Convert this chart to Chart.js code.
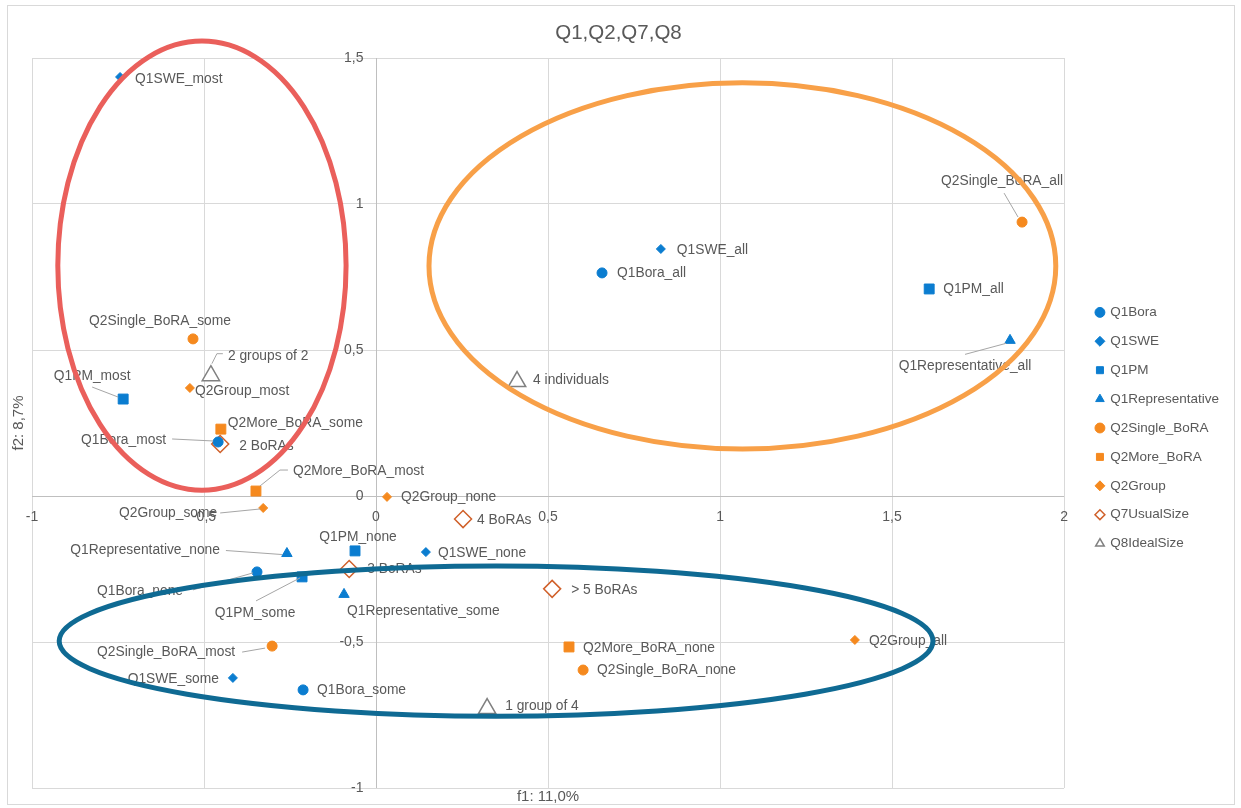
<!DOCTYPE html>
<html>
<head>
<meta charset="utf-8">
<script src="https://cdn.jsdelivr.net/npm/chart.js@4.4.1/dist/chart.umd.min.js"></script>
<style>
  html, body { margin: 0; padding: 0; background: #fff; }
  #wrap { width: 1241px; height: 808px; }
</style>
</head>
<body>
<div id="wrap"><canvas id="myChart"></canvas></div>
<script>
// series and their points
var seriesNames = ['Q1Bora', 'Q1SWE', 'Q1PM', 'Q1Representative', 'Q2Single_BoRA', 'Q2More_BoRA', 'Q2Group', 'Q7UsualSize', 'Q8IdealSize'];
var pointLabels = [
    ['Q1Bora_all', 'Q1Bora_most', 'Q1Bora_none', 'Q1Bora_some'],
    ['Q1SWE_all', 'Q1SWE_most', 'Q1SWE_none', 'Q1SWE_some'],
    ['Q1PM_all', 'Q1PM_most', 'Q1PM_none', 'Q1PM_some'],
    ['Q1Representative_all', 'Q1Representative_none', 'Q1Representative_some'],
    ['Q2Single_BoRA_all', 'Q2Single_BoRA_most', 'Q2Single_BoRA_none', 'Q2Single_BoRA_some'],
    ['Q2More_BoRA_most', 'Q2More_BoRA_none', 'Q2More_BoRA_some'],
    ['Q2Group_all', 'Q2Group_most', 'Q2Group_none', 'Q2Group_some'],
    ['2 BoRAs', '3 BoRAs', '4 BoRAs', '> 5 BoRAs'],
    ['1 group of 4', '2 groups of 2', '4 individuals']
];
var xValues = [
    [0.657, -0.459, -0.346, -0.212],
    [0.828, -0.744, 0.145, -0.416],
    [1.608, -0.735, -0.061, -0.215],
    [1.843, -0.259, -0.093],
    [1.878, -0.302, 0.602, -0.532],
    [-0.349, 0.561, -0.451],
    [1.392, -0.541, 0.032, -0.328],
    [-0.453, -0.078, 0.253, 0.512],
    [0.323, -0.480, 0.410]
];
var yValues = [
    [0.764, 0.185, -0.260, -0.664],
    [0.846, 1.435, -0.192, -0.623],
    [0.709, 0.332, -0.188, -0.277],
    [0.533, -0.197, -0.337],
    [0.938, -0.514, -0.596, 0.538],
    [0.017, -0.517, 0.229],
    [-0.493, 0.370, -0.003, -0.041],
    [0.178, -0.250, -0.079, -0.318],
    [-0.728, 0.412, 0.392]
];
var xTicks = [-1, -0.5, 0, 0.5, 1, 1.5, 2];
var yTicks = [-1, -0.5, 0, 0.5, 1, 1.5];

// highlight ellipses (data units): centre x, centre y, radius x, radius y
var ellipseCx = [-0.506, 1.065, 0.349];
var ellipseCy = [0.789, 0.788, -0.497];
var ellipseRx = [0.419, 0.911, 1.270];
var ellipseRy = [0.769, 0.627, 0.257];
var ellipseColors = ['#EA5F5B', '#F8A048', '#0F6A93'];

var blue = '#0B7DD0';
var orange = '#F5891E';
var seriesStyle = [
    { pointStyle: 'circle', radius: 5, fill: blue, border: blue, bw: 1 },
    { pointStyle: 'rectRot', radius: 4.5, fill: blue, border: blue, bw: 1 },
    { pointStyle: 'rect', radius: 7, fill: blue, border: blue, bw: 1 },
    { pointStyle: 'triangle', radius: 6, fill: blue, border: blue, bw: 1 },
    { pointStyle: 'circle', radius: 5, fill: orange, border: orange, bw: 1 },
    { pointStyle: 'rect', radius: 7, fill: orange, border: orange, bw: 1 },
    { pointStyle: 'rectRot', radius: 4.5, fill: orange, border: orange, bw: 1 },
    { pointStyle: 'rectRot', radius: 8.5, fill: '#ffffff', border: '#D0602A', bw: 1.5 },
    { pointStyle: 'triangle', radius: 10, fill: '#ffffff', border: '#808080', bw: 1.5 }
];

// where each data label sits relative to its marker (px), a = text align, l = leader line
var labelPlace = {
    'Q1Bora_all': { dx: 15, dy: 0, a: 'left' },
    'Q1Bora_most': { dx: -52, dy: -2, a: 'right', l: [[-46, -3], [-5, -1]] },
    'Q1Bora_none': { dx: -74, dy: 19, a: 'right', l: [[-64, 18], [-4, 1]] },
    'Q1Bora_some': { dx: 14, dy: 0, a: 'left' },
    'Q1SWE_all': { dx: 16, dy: 1, a: 'left' },
    'Q1SWE_most': { dx: 15, dy: 2, a: 'left' },
    'Q1SWE_none': { dx: 12, dy: 1, a: 'left' },
    'Q1SWE_some': { dx: -14, dy: 1, a: 'right' },
    'Q1PM_all': { dx: 14, dy: 0, a: 'left' },
    'Q1PM_most': { dx: -31, dy: -23, a: 'center', l: [[-31, -12], [-5, -2]] },
    'Q1PM_none': { dx: 3, dy: -14, a: 'center' },
    'Q1PM_some': { dx: -47, dy: 36, a: 'center', l: [[-46, 24], [-2, 1]] },
    'Q1Representative_all': { dx: -45, dy: 26, a: 'center', l: [[-45, 14], [-4, 3]] },
    'Q1Representative_none': { dx: -67, dy: -3, a: 'right', l: [[-61, -3], [-5, 1]] },
    'Q1Representative_some': { dx: 3, dy: 17, a: 'left' },
    'Q2Single_BoRA_all': { dx: -20, dy: -41, a: 'center', l: [[-18, -29], [-4, -5]] },
    'Q2Single_BoRA_most': { dx: -37, dy: 6, a: 'right', l: [[-30, 6], [-7, 2]] },
    'Q2Single_BoRA_none': { dx: 14, dy: 0, a: 'left' },
    'Q2Single_BoRA_some': { dx: -33, dy: -18, a: 'center' },
    'Q2More_BoRA_most': { dx: 37, dy: -20, a: 'left', l: [[32, -21], [24, -21], [4, -5]] },
    'Q2More_BoRA_none': { dx: 14, dy: 1, a: 'left' },
    'Q2More_BoRA_some': { dx: 7, dy: -6, a: 'left' },
    'Q2Group_all': { dx: 14, dy: 1, a: 'left' },
    'Q2Group_most': { dx: 5, dy: 3, a: 'left' },
    'Q2Group_none': { dx: 14, dy: 0, a: 'left' },
    'Q2Group_some': { dx: -46, dy: 5, a: 'right', l: [[-43, 5], [-3, 1]] },
    '2 BoRAs': { dx: 19, dy: 2, a: 'left' },
    '3 BoRAs': { dx: 18, dy: 0, a: 'left' },
    '4 BoRAs': { dx: 14, dy: 1, a: 'left' },
    '> 5 BoRAs': { dx: 19, dy: 1, a: 'left' },
    '1 group of 4': { dx: 18, dy: -2, a: 'left' },
    '2 groups of 2': { dx: 17, dy: -20, a: 'left', l: [[12, -22], [6, -22], [1, -12]] },
    '4 individuals': { dx: 16, dy: -1, a: 'left' }
};

var textColor = '#595959';
var fontFamily = "'Liberation Sans', Arial, sans-serif";

function fmt(v) {
    return String(v).replace('.', ',');
}

var datasets = seriesNames.map(function(name, i) {
    var st = seriesStyle[i];
    return {
        label: name,
        data: xValues[i].map(function(x, j) { return { x: x, y: yValues[i][j] }; }),
        pointStyle: st.pointStyle,
        pointRadius: st.radius,
        pointHoverRadius: st.radius,
        backgroundColor: st.fill,
        borderColor: st.border,
        borderWidth: st.bw,
        showLine: false
    };
});

var framePlugin = {
    id: 'frame',
    beforeDraw: function(chart) {
        var c = chart.ctx;
        c.save();
        c.fillStyle = '#ffffff';
        c.fillRect(0, 0, chart.width, chart.height);
        c.strokeStyle = '#D9D9D9';
        c.lineWidth = 1;
        c.strokeRect(7.5, 5.5, 1227, 799);
        c.restore();
    }
};

// axes crossing at zero with their tick labels, like the spreadsheet chart
var crossAxesPlugin = {
    id: 'crossAxes',
    beforeDatasetsDraw: function(chart) {
        var c = chart.ctx;
        var xs = chart.scales.x, ys = chart.scales.y;
        var x0 = Math.round(xs.getPixelForValue(0)) + 0.5;
        var y0 = Math.round(ys.getPixelForValue(0)) + 0.5;
        var a = chart.chartArea;
        c.save();
        c.strokeStyle = '#BFBFBF';
        c.lineWidth = 1;
        c.beginPath();
        c.moveTo(a.left, y0); c.lineTo(a.right, y0);
        c.moveTo(x0, a.top); c.lineTo(x0, a.bottom);
        c.stroke();
        c.fillStyle = textColor;
        c.font = '14px ' + fontFamily;
        c.textBaseline = 'middle';
        c.textAlign = 'center';
        xTicks.forEach(function(v) {
            c.fillText(fmt(v), xs.getPixelForValue(v), y0 + 21);
        });
        c.textAlign = 'right';
        yTicks.forEach(function(v) {
            c.fillText(fmt(v), x0 - 13, ys.getPixelForValue(v));
        });
        c.restore();
    }
};

var pointLabelPlugin = {
    id: 'pointLabels',
    afterDatasetsDraw: function(chart) {
        var c = chart.ctx;
        c.save();
        c.font = '13.8px ' + fontFamily;
        c.textBaseline = 'middle';
        chart.data.datasets.forEach(function(ds, i) {
            var meta = chart.getDatasetMeta(i);
            meta.data.forEach(function(pt, j) {
                var name = pointLabels[i][j];
                var p = labelPlace[name];
                if (p.l) {
                    c.strokeStyle = '#A6A6A6';
                    c.lineWidth = 1;
                    c.beginPath();
                    p.l.forEach(function(q, k) {
                        if (k === 0) c.moveTo(pt.x + q[0], pt.y + q[1]);
                        else c.lineTo(pt.x + q[0], pt.y + q[1]);
                    });
                    c.stroke();
                }
                c.fillStyle = textColor;
                c.textAlign = p.a;
                c.fillText(name, pt.x + p.dx, pt.y + p.dy);
            });
        });
        c.restore();
    }
};

var ellipsePlugin = {
    id: 'ellipses',
    afterDraw: function(chart) {
        var c = chart.ctx;
        var xs = chart.scales.x, ys = chart.scales.y;
        c.save();
        c.lineWidth = 5;
        ellipseCx.forEach(function(cx, i) {
            var px = xs.getPixelForValue(cx);
            var py = ys.getPixelForValue(ellipseCy[i]);
            var rx = Math.abs(xs.getPixelForValue(cx + ellipseRx[i]) - px);
            var ry = Math.abs(ys.getPixelForValue(ellipseCy[i] + ellipseRy[i]) - py);
            c.strokeStyle = ellipseColors[i];
            c.beginPath();
            c.ellipse(px, py, rx, ry, 0, 0, Math.PI * 2);
            c.stroke();
        });
        c.restore();
    }
};

var ctx = document.getElementById('myChart').getContext('2d');
var myChart = new Chart(ctx, {
    type: 'scatter',
    data: { datasets: datasets },
    plugins: [framePlugin, crossAxesPlugin, pointLabelPlugin, ellipsePlugin],
    options: {
        responsive: true,
        maintainAspectRatio: false,
        animation: false,
        layout: { padding: { top: 8, left: 8, right: 12, bottom: 2 } },
        font: { family: fontFamily },
        scales: {
            x: {
                type: 'linear',
                min: -1,
                max: 2,
                afterBuildTicks: function(scale) {
                    scale.ticks = xTicks.map(function(v) { return { value: v }; });
                },
                grid: { color: '#D9D9D9', drawTicks: false },
                border: { display: false },
                ticks: { display: false },
                title: {
                    display: true,
                    text: 'f1: 11,0%',
                    color: textColor,
                    font: { size: 15, family: fontFamily },
                    padding: { top: 0, bottom: 0 }
                }
            },
            y: {
                type: 'linear',
                min: -1,
                max: 1.5,
                afterBuildTicks: function(scale) {
                    scale.ticks = yTicks.map(function(v) { return { value: v }; });
                },
                grid: { color: '#D9D9D9', drawTicks: false },
                border: { display: false },
                ticks: { display: false },
                title: {
                    display: true,
                    text: 'f2: 8,7%',
                    color: textColor,
                    font: { size: 15, family: fontFamily },
                    padding: { top: 2, bottom: 4 }
                }
            },
            gap: {
                type: 'linear',
                position: 'right',
                display: true,
                grid: { display: false, drawTicks: false },
                border: { display: false },
                ticks: { display: false },
                afterFit: function(scale) { scale.width = 17; }
            }
        },
        plugins: {
            title: {
                display: true,
                text: 'Q1,Q2,Q7,Q8',
                color: textColor,
                font: { size: 20.5, weight: 'normal', family: fontFamily },
                padding: { top: 12.7, bottom: 12.7 }
            },
            legend: {
                display: true,
                position: 'right',
                fullSize: false,
                title: { display: true, text: ' ', font: { size: 5 }, padding: 2 },
                labels: {
                    usePointStyle: true,
                    boxWidth: 7,
                    boxHeight: 7,
                    padding: 15.4,
                    color: textColor,
                    font: { size: 13.5, family: fontFamily }
                }
            },
            tooltip: { enabled: false }
        }
    }
});
</script>
</body>
</html>
